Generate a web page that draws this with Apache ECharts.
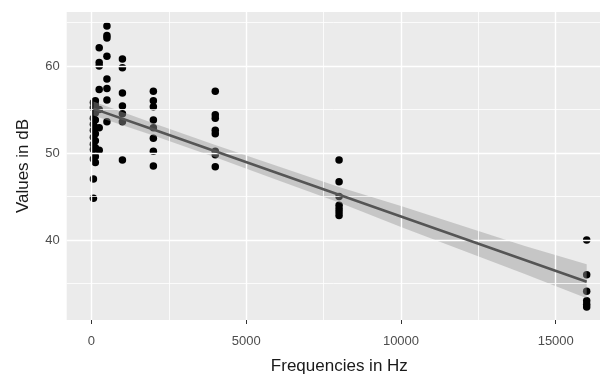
<!DOCTYPE html>
<html>
<head>
<meta charset="utf-8">
<script src="https://cdn.jsdelivr.net/npm/echarts@6/dist/echarts.min.js"></script>
<style>
html,body{margin:0;padding:0;background:#fff;}
#c{width:600px;height:380px;}
</style>
</head>
<body>
<div id="c"></div>
<script>
// ---- data ----
const freqs = [63, 125, 250, 500, 1000, 2000, 4000, 8000, 16000];
const v63    = [55.8, 55.2, 54.0, 53.3, 52.6, 51.8, 51.0, 50.4, 49.3, 47.0, 44.8];
const v125   = [56.0, 55.5, 54.6, 53.8, 52.9, 52.2, 51.4, 50.6, 49.6, 48.9];
const v250   = [62.1, 60.4, 60.0, 57.3, 55.0, 52.9, 50.3];
const v500   = [64.6, 63.5, 63.2, 61.1, 58.5, 57.4, 56.1, 53.6];
const v1000  = [60.8, 59.8, 56.9, 55.4, 54.5, 53.6, 49.2];
const v2000  = [57.1, 56.0, 55.3, 53.8, 52.9, 51.7, 50.2, 48.5];
const v4000  = [57.1, 54.4, 54.0, 52.6, 52.2, 50.2, 49.8, 48.4];
const v8000  = [49.2, 46.7, 45.0, 44.0, 43.6, 43.2, 42.8];
const v16000 = [40.0, 36.0, 34.1, 33.0, 32.6, 32.3];
const valuesByFreq = [v63, v125, v250, v500, v1000, v2000, v4000, v8000, v16000];

// regression line and confidence band
const fitX     = [63, 2000, 4000, 6000, 8000, 10000, 12000, 14000, 16000];
const fitY     = [55.1, 52.7, 50.2, 47.7, 45.2, 42.7, 40.2, 37.7, 35.2];
const fitLower = [54.3, 52.0, 49.5, 46.9, 44.3, 41.5, 38.8, 36.1, 33.3];
const fitUpper = [55.9, 53.4, 50.9, 48.5, 46.1, 43.9, 41.6, 39.3, 37.2];

// axis ticks
const xTicks = [0, 5000, 10000, 15000];
const xMinor = [2500, 7500, 12500];
const yTicks = [40, 50, 60];
const yMinor = [35, 45, 55, 65];

const xTitle = 'Frequencies in Hz';
const yTitle = 'Values in dB';

// ---- build ----
const points = [];
freqs.forEach((f, i) => valuesByFreq[i].forEach(v => points.push([f, v])));

const gridLines = [];
xTicks.forEach(v => gridLines.push({xAxis: v, lineStyle: {width: 1.4}}));
xMinor.forEach(v => gridLines.push({xAxis: v, lineStyle: {width: 0.8}}));
yTicks.forEach(v => gridLines.push({yAxis: v, lineStyle: {width: 1.4}}));
yMinor.forEach(v => gridLines.push({yAxis: v, lineStyle: {width: 0.8}}));

const FONT = '"Liberation Sans", Arial, sans-serif';

const chart = echarts.init(document.getElementById('c'), null, {renderer: 'canvas'});
chart.setOption({
  animation: false,
  backgroundColor: '#ffffff',
  grid: {
    left: 66.7, top: 12, right: 0, bottom: 54,
    show: true, backgroundColor: '#ebebeb', borderWidth: 0,
    containLabel: false
  },
  xAxis: {
    type: 'value', min: -800, max: 16430,
    axisLine: {show: false},
    axisTick: {show: true, customValues: xTicks, length: 4, lineStyle: {color: '#333333', width: 1}},
    axisLabel: {customValues: xTicks, color: '#4d4d4d', fontSize: 13, fontFamily: FONT, margin: 15,
                formatter: v => String(v)},
    splitLine: {show: false},
    name: xTitle, nameLocation: 'middle', nameGap: 38,
    nameTextStyle: {color: '#1a1a1a', fontSize: 17, fontFamily: FONT, padding: [0, 0, 0, 12]}
  },
  yAxis: {
    type: 'value', min: 30.8, max: 66.2,
    axisLine: {show: false},
    axisTick: {show: true, customValues: yTicks, length: 4, lineStyle: {color: '#333333', width: 1}},
    axisLabel: {customValues: yTicks, color: '#4d4d4d', fontSize: 13, fontFamily: FONT, margin: 7},
    splitLine: {show: false},
    name: yTitle, nameLocation: 'middle', nameGap: 35,
    nameTextStyle: {color: '#1a1a1a', fontSize: 17, fontFamily: FONT}
  },
  series: [
    {
      type: 'line', data: [], z: 1, silent: true,
      markLine: {
        silent: true, symbol: ['none', 'none'], label: {show: false},
        lineStyle: {color: '#ffffff', type: 'solid'},
        data: gridLines
      }
    },
    {
      type: 'scatter', z: 3, symbol: 'circle', symbolSize: 7.5,
      itemStyle: {color: '#000000', opacity: 1},
      data: points
    },
    {
      type: 'custom', z: 4, silent: true,
      data: [[0]],
      renderItem: function (params, api) {
        const pts = [];
        for (let i = 0; i < fitX.length; i++) pts.push(api.coord([fitX[i], fitUpper[i]]));
        for (let i = fitX.length - 1; i >= 0; i--) pts.push(api.coord([fitX[i], fitLower[i]]));
        return {
          type: 'polygon',
          shape: {points: pts},
          style: {fill: 'rgba(153,153,153,0.45)', stroke: 'none'}
        };
      }
    },
    {
      type: 'line', z: 5, symbol: 'none', silent: true,
      lineStyle: {color: '#555555', width: 2.5},
      data: fitX.map((x, i) => [x, fitY[i]])
    }
  ]
});
</script>
</body>
</html>
